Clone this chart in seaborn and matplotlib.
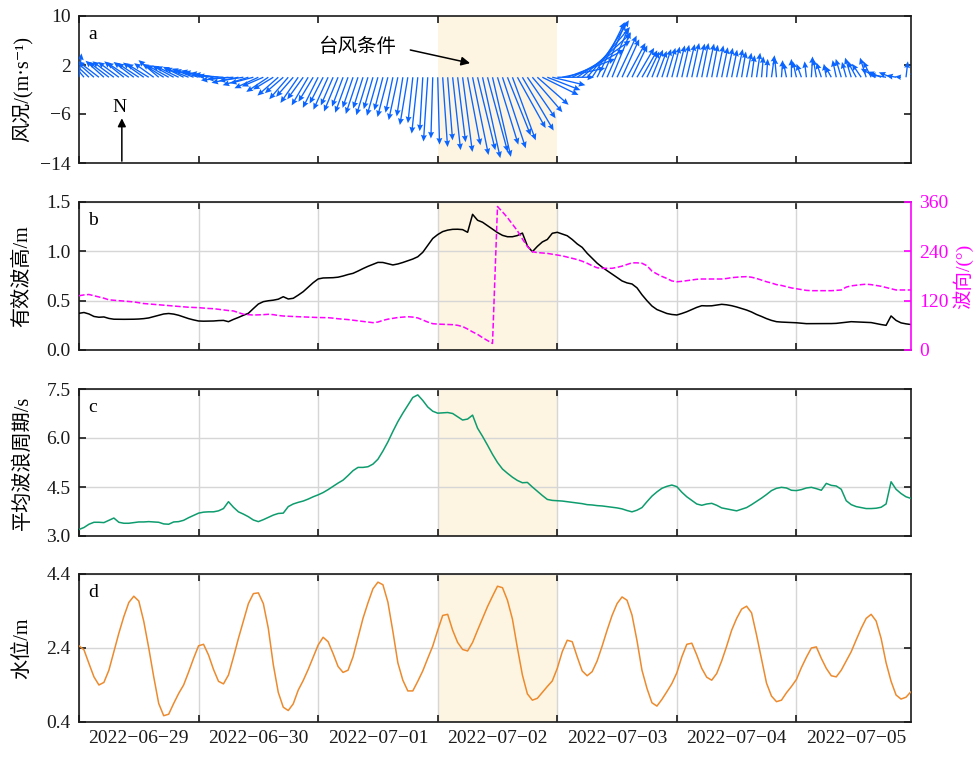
import numpy as np
import pandas as pd
import matplotlib
matplotlib.use('Agg')
import matplotlib.pyplot as plt
import matplotlib.dates as mdates
from matplotlib.ticker import FormatStrFormatter
import seaborn as sns

# ---------------- data (hourly, 2022-06-29 00:00 .. 2022-07-05 23:00) ----------------
times = pd.date_range('2022-06-29 00:00', periods=168, freq='h')

wind_u = [0.4, -2.5, -3.0, -3.2, -3.4, -3.0, -3.3, -3.5, -3.4, -3.2, -3.6, -3.3, -3.5, -3.4, -3.6, -3.2,
          -3.3, -3.5, -3.6, -3.5, -3.7, -3.4, -3.8, -3.6, -3.9, -3.7, -4.0, -3.8, -4.0, -4.2, -4.5, -4.3,
          -4.4, -4.0, -4.2, -3.8, -3.9, -3.5, -3.6, -3.3, -3.4, -3.0, -3.1, -2.8, -2.9, -2.6, -2.7, -2.4,
          -2.5, -2.2, -2.4, -2.0, -2.3, -1.8, -2.1, -1.7, -2.0, -1.6, -1.9, -1.5, -1.8, -1.4, -1.7, -1.2,
          -1.5, -1.0, -1.3, -0.8, -1.0, -0.5, -0.7, -0.3, 0.3, 0.8, 0.8, 1.3, 1.3, 1.6, 2.1, 2.6,
          2.9, 2.9, 3.3, 3.0, 3.4, 3.8, 3.8, 3.8, 4.6, 5.1, 4.6, 4.9, 5.1, 5.9, 5.4, 5.4,
          6.0, 7.0, 7.8, 8.5, 8.7, 8.0, 7.0, 6.0, 4.5, 3.8, 3.5, 3.0, 3.2, 2.8, 3.0, 2.5,
          2.8, 2.5, 2.0, 1.8, 1.6, 1.5, 1.4, 1.3, 1.3, 1.2, 1.3, 1.2, 1.3, 1.1, 1.2, 1.0,
          1.1, 1.0, 1.0, 0.9, 1.0, 0.7, 0.8, 0.5, 0.6, 0.3, 0.2, 0.5, -0.3, 0.2, -0.5, 0.0,
          -0.6, -0.8, -0.3, 0.2, -0.5, -0.8, -0.4, -1.0, -0.6, -0.9, -0.7, -1.0, -1.4, -1.5, -1.0, -1.3,
          -2.5, -2.2, -2.8, -2.0, -1.6, -1.0, 0.3, 0.8]
wind_v = [3.9, 3.0, 2.8, 2.8, 2.6, 2.7, 2.5, 2.6, 2.5, 2.6, 2.4, 2.5, 2.3, 2.4, 2.2, 2.3,
          2.8, 2.2, 2.0, 1.9, 1.8, 1.7, 1.5, 1.4, 1.2, 1.1, 0.9, 0.7, 0.5, 0.2, -0.5, -0.3,
          -0.9, -0.6, -1.3, -1.0, -1.8, -1.5, -2.4, -2.0, -3.0, -2.6, -3.6, -3.2, -4.2, -3.6, -4.6, -4.0,
          -5.0, -4.3, -5.3, -4.6, -5.6, -4.8, -5.8, -5.0, -6.0, -5.1, -6.2, -5.2, -6.3, -5.4, -6.5, -5.8,
          -7.0, -6.4, -7.8, -7.5, -9.2, -8.8, -10.5, -10.0, -11.0, -11.4, -10.3, -11.9, -10.6, -12.2, -11.1, -12.7,
          -11.9, -13.2, -12.2, -13.0, -11.0, -11.6, -9.5, -10.3, -8.3, -8.7, -6.7, -5.7, -4.5, -2.9, -2.1, -1.3,
          0.0, 1.5, 3.0, 4.5, 6.0, 7.2, 8.2, 9.3, 9.0, 8.8, 8.0, 7.4, 6.8, 6.2, 5.6, 5.2,
          4.8, 4.4, 4.2, 4.5, 4.3, 4.6, 4.8, 5.0, 5.2, 5.3, 5.4, 5.6, 5.5, 5.6, 5.5, 5.3,
          5.2, 4.9, 4.8, 4.5, 4.6, 4.2, 4.0, 3.6, 4.0, 3.4, 3.0, 3.6, 3.2, 2.8, 2.4, 3.0,
          2.6, 2.2, 2.6, 3.4, 3.0, 2.4, 2.2, 1.8, 2.8, 3.0, 2.5, 3.2, 2.6, 2.2, 3.2, 2.6,
          1.4, 0.9, 0.5, 0.8, 0.3, 0.1, 2.6, 1.1]

hs = [0.372, 0.38, 0.365, 0.34, 0.332, 0.335, 0.32, 0.312, 0.311, 0.311, 0.311, 0.312, 0.314, 0.318, 0.325, 0.338,
      0.352, 0.365, 0.370, 0.364, 0.352, 0.335, 0.318, 0.305, 0.294, 0.292, 0.293, 0.294, 0.298, 0.300, 0.287, 0.310,
      0.33, 0.352, 0.372, 0.42, 0.466, 0.49, 0.499, 0.505, 0.515, 0.54, 0.517, 0.524, 0.556, 0.591, 0.636, 0.682,
      0.72, 0.730, 0.732, 0.733, 0.738, 0.75, 0.765, 0.777, 0.80, 0.825, 0.848, 0.868, 0.888, 0.887, 0.875, 0.862,
      0.872, 0.887, 0.905, 0.922, 0.945, 0.99, 1.06, 1.13, 1.17, 1.20, 1.215, 1.223, 1.224, 1.22, 1.193, 1.375,
      1.315, 1.295, 1.26, 1.225, 1.19, 1.162, 1.148, 1.148, 1.16, 1.185, 1.055, 0.996, 1.05, 1.095, 1.12, 1.183,
      1.193, 1.175, 1.158, 1.12, 1.075, 1.04, 0.98, 0.93, 0.88, 0.84, 0.804, 0.77, 0.735, 0.70, 0.68, 0.669,
      0.63, 0.56, 0.50, 0.446, 0.41, 0.39, 0.37, 0.36, 0.355, 0.37, 0.388, 0.41, 0.432, 0.449, 0.447, 0.448,
      0.456, 0.463, 0.458, 0.449, 0.436, 0.42, 0.405, 0.385, 0.36, 0.34, 0.318, 0.30, 0.287, 0.283, 0.281, 0.280,
      0.276, 0.272, 0.267, 0.267, 0.267, 0.267, 0.268, 0.268, 0.270, 0.276, 0.282, 0.287, 0.285, 0.282, 0.281, 0.278,
      0.268, 0.258, 0.25, 0.345, 0.30, 0.275, 0.265, 0.258]

wave_dir = [132, 134, 135, 132, 129, 126, 122, 121, 120, 119, 118, 117, 115, 113, 112, 111,
            110, 109, 108, 107, 106, 105, 104, 103.5, 103, 102, 101, 100.5, 99, 97.5, 96, 95,
            91, 87, 86, 85, 85.5, 86, 86.8, 86, 84, 82.7, 82, 81.5, 81, 80.5, 80, 79.5,
            79, 78.8, 78.6, 77.5, 76, 75, 74, 72.5, 71, 69.5, 68, 66.5, 68, 72, 75, 77,
            79, 80, 81, 80, 78, 73, 68, 64, 63, 62.5, 62, 61.6, 60, 57, 51, 44,
            38, 30, 23, 16, 349, 336, 322, 306, 290, 270, 252, 239, 237, 236, 235, 233,
            231, 229, 226, 223, 220, 216, 211, 205, 200, 198.7, 198.7, 198.7, 201, 204, 208, 212,
            212, 211, 205, 192, 185, 179, 174, 168, 166, 167, 168.6, 170, 172, 172.7, 172.7, 172.7,
            172.7, 172.7, 174, 176, 177, 178, 178.4, 177, 174, 170, 166, 163, 159, 157, 154, 151,
            149, 147, 145, 144.3, 144.3, 144.3, 144.3, 144.3, 145, 146, 153, 156, 157.5, 159, 160, 159,
            157, 155, 152, 149, 146, 146, 146, 146]

mean_period = [3.20, 3.26, 3.36, 3.42, 3.42, 3.41, 3.48, 3.55, 3.42, 3.39, 3.39, 3.41, 3.43, 3.43, 3.44, 3.43,
               3.42, 3.37, 3.36, 3.43, 3.44, 3.48, 3.56, 3.63, 3.70, 3.73, 3.74, 3.74, 3.77, 3.84, 4.05, 3.88,
               3.74, 3.67, 3.59, 3.49, 3.44, 3.50, 3.57, 3.64, 3.69, 3.70, 3.90, 3.98, 4.03, 4.07, 4.13, 4.20,
               4.26, 4.33, 4.42, 4.52, 4.62, 4.71, 4.85, 5.00, 5.10, 5.10, 5.12, 5.20, 5.35, 5.60, 5.88, 6.20,
               6.50, 6.76, 7.00, 7.24, 7.32, 7.15, 6.95, 6.82, 6.76, 6.77, 6.78, 6.75, 6.65, 6.55, 6.58, 6.70,
               6.30, 6.05, 5.78, 5.50, 5.25, 5.05, 4.92, 4.80, 4.70, 4.63, 4.64, 4.50, 4.37, 4.24, 4.12, 4.09,
               4.08, 4.07, 4.05, 4.03, 4.01, 3.99, 3.96, 3.95, 3.93, 3.92, 3.90, 3.88, 3.86, 3.83, 3.78, 3.74,
               3.79, 3.87, 4.05, 4.22, 4.35, 4.46, 4.52, 4.56, 4.51, 4.34, 4.20, 4.09, 3.98, 3.94, 3.98, 4.00,
               3.94, 3.86, 3.83, 3.80, 3.77, 3.82, 3.87, 3.96, 4.06, 4.16, 4.27, 4.39, 4.46, 4.49, 4.47, 4.40,
               4.39, 4.42, 4.47, 4.49, 4.45, 4.40, 4.61, 4.55, 4.53, 4.43, 4.08, 3.96, 3.90, 3.87, 3.84, 3.84,
               3.85, 3.88, 3.98, 4.66, 4.43, 4.30, 4.20, 4.15]

water_level = [2.46, 2.35, 1.98, 1.62, 1.40, 1.47, 1.80, 2.30, 2.80, 3.25, 3.63, 3.80, 3.67, 3.12, 2.40, 1.62,
               0.90, 0.57, 0.61, 0.90, 1.17, 1.40, 1.75, 2.12, 2.46, 2.50, 2.21, 1.82, 1.50, 1.43, 1.67, 2.15,
               2.66, 3.13, 3.60, 3.87, 3.89, 3.60, 2.93, 1.95, 1.20, 0.80, 0.71, 0.89, 1.26, 1.52, 1.82, 2.15,
               2.48, 2.69, 2.57, 2.25, 1.90, 1.74, 1.80, 2.16, 2.68, 3.20, 3.62, 4.00, 4.18, 4.11, 3.64, 2.85,
               2.00, 1.53, 1.24, 1.24, 1.50, 1.78, 2.12, 2.45, 2.88, 3.28, 3.31, 2.88, 2.55, 2.36, 2.32, 2.55,
               2.88, 3.20, 3.52, 3.80, 4.07, 4.03, 3.69, 3.18, 2.40, 1.67, 1.16, 0.99, 1.04, 1.20, 1.36, 1.51,
               1.85, 2.30, 2.61, 2.57, 2.16, 1.78, 1.65, 1.76, 2.05, 2.45, 2.88, 3.28, 3.60, 3.78, 3.69, 3.29,
               2.60, 1.80, 1.31, 0.92, 0.83, 1.01, 1.22, 1.44, 1.73, 2.16, 2.50, 2.53, 2.21, 1.85, 1.61, 1.53,
               1.71, 2.05, 2.45, 2.88, 3.20, 3.45, 3.53, 3.35, 2.75, 2.10, 1.45, 1.10, 0.95, 0.99, 1.19, 1.36,
               1.55, 1.87, 2.15, 2.40, 2.43, 2.12, 1.85, 1.65, 1.62, 1.80, 2.05, 2.30, 2.62, 2.93, 3.20, 3.31,
               3.13, 2.66, 2.00, 1.50, 1.13, 1.02, 1.07, 1.22]

day_starts = ['2022-06-29', '2022-06-30', '2022-07-01', '2022-07-02', '2022-07-03', '2022-07-04', '2022-07-05']
date_labels = ['2022−06−29', '2022−06−30', '2022−07−01', '2022−07−02', '2022−07−03', '2022−07−04', '2022−07−05']
typhoon_period = ['2022-07-02 00:00', '2022-07-03 00:00']

# ---------------- style ----------------
sns.set_style('ticks')
plt.rcParams['font.family'] = ['Liberation Serif', 'Noto Sans CJK SC', 'DejaVu Serif']
plt.rcParams['axes.unicode_minus'] = True
plt.rcParams['axes.edgecolor'] = '#1a1a1a'
plt.rcParams['xtick.color'] = '#1a1a1a'
plt.rcParams['ytick.color'] = '#1a1a1a'
plt.rcParams['text.color'] = 'black'
plt.rcParams['axes.labelcolor'] = 'black'

xnum = mdates.date2num(times)
day_num = mdates.date2num(pd.to_datetime(day_starts))
noon_num = day_num + 0.5
ty0, ty1 = mdates.date2num(pd.to_datetime(typhoon_period))

fig = plt.figure(figsize=(9.77, 7.76), dpi=100)
L, W = 79 / 977, 832 / 977


def pos(top, bottom):
    return [L, 1 - bottom / 776, W, (bottom - top) / 776]


axa = fig.add_axes(pos(16, 163))
axb = fig.add_axes(pos(202, 350))
axc = fig.add_axes(pos(389, 536))
axd = fig.add_axes(pos(574, 722))
axes = [axa, axb, axc, axd]

SHADE = '#FDF5E1'
for ax in axes:
    ax.axvspan(ty0, ty1, color=SHADE, zorder=0, lw=0)
    ax.set_xlim(xnum[0], xnum[-1])
    ax.set_xticks(day_num)
    ax.set_xticks(noon_num, minor=True)
    ax.tick_params(axis='x', which='major', direction='in', top=True, bottom=True,
                   length=5, width=1.2, labelbottom=False)
    ax.tick_params(axis='x', which='minor', length=0)
    ax.tick_params(axis='y', which='major', direction='in', left=True, right=True,
                   length=5, width=1.2, labelsize=14, pad=6)
    for s in ax.spines.values():
        s.set_linewidth(1.2)
        s.set_visible(True)

YLAB = 14.5

# ---- panel a : wind stick plot ----
axa.quiver(xnum, np.zeros(len(xnum)), wind_u, wind_v, angles='uv', scale_units='y', scale=1,
           color='#0A64FF', width=0.0016, headwidth=4.5, headlength=5, headaxislength=4.5, zorder=3)
axa.set_ylim(-14, 10)
axa.set_yticks([-14, -6, 2, 10])
axa.set_ylabel('风况/(m·s⁻¹)', fontsize=YLAB)
t0 = xnum[0]
axa.text(t0 + 55.8 / 24, 4.9, '台风条件', fontsize=14, ha='center', va='center', zorder=5)
axa.annotate('', xy=(t0 + 78.5 / 24, 2.3), xytext=(t0 + 66.5 / 24, 4.45),
             arrowprops=dict(arrowstyle='-|>', color='black', lw=1.1, mutation_scale=13,
                             shrinkA=0, shrinkB=0), zorder=5)
axa.text(t0 + 8.2 / 24, -4.9, 'N', fontsize=14, ha='center', va='center')
axa.annotate('', xy=(t0 + 8.6 / 24, -6.7), xytext=(t0 + 8.6 / 24, -13.7),
             arrowprops=dict(arrowstyle='-|>', color='black', lw=1.1, mutation_scale=12,
                             shrinkA=0, shrinkB=0))

# ---- panel b : Hs and wave direction ----
sns.lineplot(x=xnum, y=hs, ax=axb, color='black', linewidth=1.1, zorder=3)
axb.set_ylim(0, 1.5)
axb.set_yticks([0, 0.5, 1.0, 1.5])
axb.yaxis.set_major_formatter(FormatStrFormatter('%.1f'))
axb.tick_params(axis='y', right=False)
axb.spines['right'].set_visible(False)
axb.set_ylabel('有效波高/m', fontsize=YLAB)
axb.grid(True, which='major', color='#d6d6d6', lw=1.0)

axb2 = axb.twinx()
sns.lineplot(x=xnum, y=wave_dir, ax=axb2, color='#FF00FF', linewidth=1.1, linestyle='--', zorder=3)
axb2.set_ylim(0, 360)
axb2.set_yticks([0, 120, 240, 360])
axb2.tick_params(axis='y', direction='in', length=5, width=1.2, colors='#FF00FF', labelsize=14, pad=6)
axb2.spines['right'].set_color('#FF00FF')
axb2.spines['right'].set_linewidth(1.2)
for k in ['left', 'top', 'bottom']:
    axb2.spines[k].set_visible(False)
axb2.set_ylabel('波向/(°)', fontsize=14, color='#FF00FF', rotation=90)
axb2.yaxis.set_label_coords(1.0505, 0.5)
axb2.grid(False)
axb2.set_xlim(xnum[0], xnum[-1])

# ---- panel c : mean wave period ----
sns.lineplot(x=xnum, y=mean_period, ax=axc, color='#0E9C6E', linewidth=1.1, zorder=3)
axc.set_ylim(3.0, 7.5)
axc.set_yticks([3.0, 4.5, 6.0, 7.5])
axc.yaxis.set_major_formatter(FormatStrFormatter('%.1f'))
axc.set_ylabel('平均波浪周期/s', fontsize=YLAB)
axc.grid(True, which='major', color='#d6d6d6', lw=1.0)

# ---- panel d : water level ----
sns.lineplot(x=xnum, y=water_level, ax=axd, color='#EC8A2D', linewidth=1.1, zorder=3)
axd.set_ylim(0.4, 4.4)
axd.set_yticks([0.4, 2.4, 4.4])
axd.yaxis.set_major_formatter(FormatStrFormatter('%.1f'))
axd.set_ylabel('水位/m', fontsize=YLAB)
axd.grid(True, which='major', color='#d6d6d6', lw=1.0)
axd.set_xticks(noon_num, labels=date_labels, minor=True)
axd.tick_params(axis='x', which='minor', length=0, labelsize=14, pad=6)
axd.set_xlabel('日期', fontsize=14, labelpad=2)

for ax in axes:
    ax.set_xlim(xnum[0], xnum[-1])
    ax.yaxis.set_label_coords(-0.056, 0.5)

for ax, letter in zip(axes, ['a', 'b', 'c', 'd']):
    ax.text(0.011, 0.93, letter, transform=ax.transAxes, fontsize=14, ha='left', va='top', zorder=6)

fig.savefig('out.png', dpi=100)
